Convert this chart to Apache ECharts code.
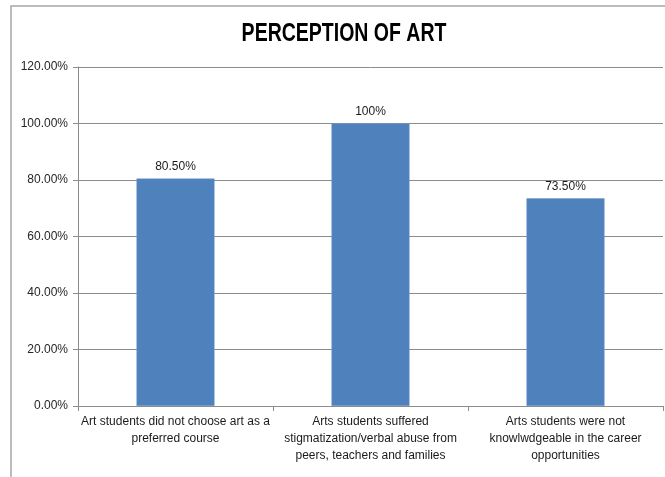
<!DOCTYPE html>
<html>
<head>
<meta charset="utf-8">
<script src="https://cdn.jsdelivr.net/npm/echarts@6/dist/echarts.min.js"></script>
<style>html,body{margin:0;padding:0;background:#fff}#c{width:665px;height:477px}</style>
</head>
<body>
<div id="c"></div>
<script>
const categories = [
  "Art students did not choose art as a\npreferred course",
  "Arts students suffered\nstigmatization/verbal abuse from\npeers, teachers and families",
  "Arts students were not\nknowlwdgeable in the career\nopportunities"
];
const values = [80.5, 100, 73.5];
const valueLabels = ["80.50%", "100%", "73.50%"];
const titleText = "PERCEPTION OF ART";

const chart = echarts.init(document.getElementById('c'));
chart.setOption({
  animation: false,
  backgroundColor: '#fff',
  graphic: [{
    type: 'rect', shape: { x: 11, y: 6, width: 700, height: 520 },
    style: { fill: 'none', stroke: '#a6a6a6', lineWidth: 1.5 }, silent: true
  }, {
    type: 'text', x: 344, y: 34, scaleX: 0.78, silent: true,
    style: {
      text: titleText, fill: '#000', align: 'center', verticalAlign: 'middle',
      font: 'bold 25px "Liberation Sans"'
    }
  }],
  grid: { left: 78, right: 2, top: 67, bottom: 71 },
  xAxis: {
    type: 'category', data: categories,
    axisLine: { lineStyle: { color: '#8c8c8c' } },
    axisTick: { show: true, length: 5, lineStyle: { color: '#8c8c8c' } },
    axisLabel: { interval: 0, color: '#1a1a1a', fontFamily: 'Liberation Sans', fontSize: 12, lineHeight: 17, margin: 7 }
  },
  yAxis: {
    type: 'value', min: 0, max: 120, interval: 20,
    axisLine: { show: true, lineStyle: { color: '#8c8c8c' } },
    axisTick: { show: true, length: 5, lineStyle: { color: '#8c8c8c' } },
    splitLine: { lineStyle: { color: '#8c8c8c' } },
    axisLabel: { formatter: v => v.toFixed(2) + '%', color: '#262626', fontFamily: 'Liberation Sans', fontSize: 12, margin: 10 }
  },
  series: [{
    type: 'bar', data: values, barWidth: '40%',
    itemStyle: { color: '#4F81BD', borderColor: '#6f97c8', borderWidth: 0.5 },
    label: {
      show: true, position: 'top', distance: 6,
      formatter: p => valueLabels[p.dataIndex],
      color: '#1a1a1a', fontFamily: 'Liberation Sans', fontSize: 12
    }
  }]
});
</script>
</body>
</html>
